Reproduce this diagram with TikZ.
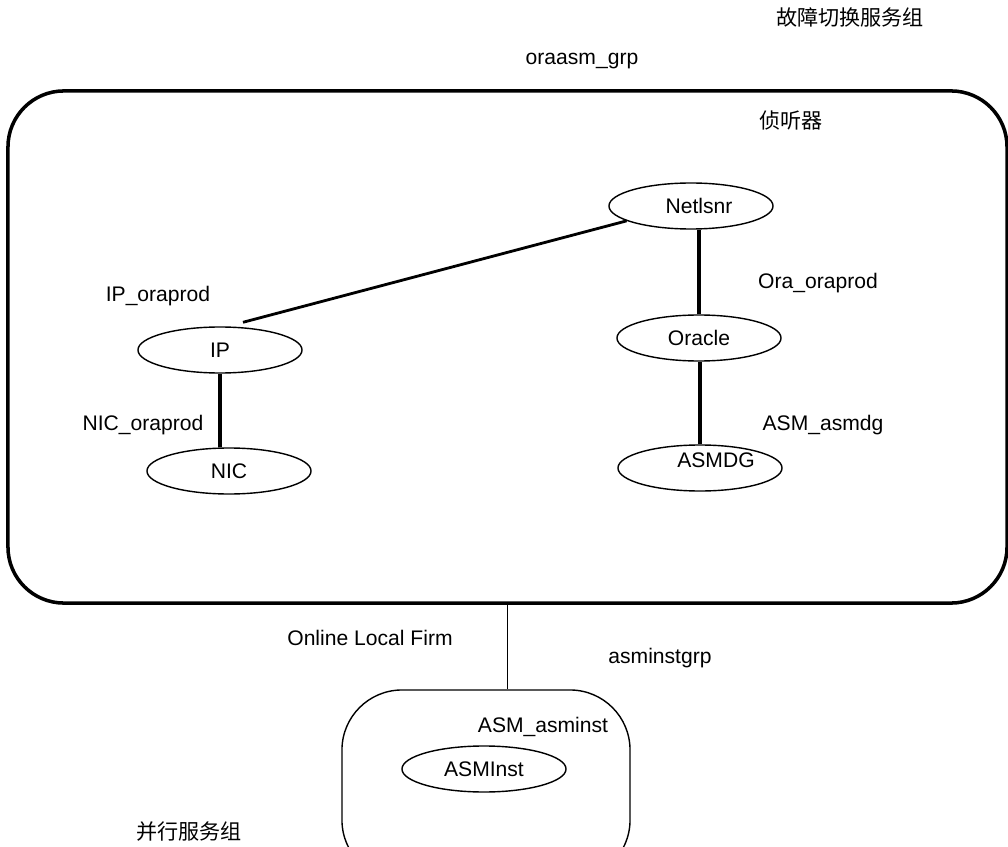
\documentclass[tikz,border=0pt]{standalone}
\usepackage{fontspec}
\setmainfont{Liberation Sans}
\newfontfamily\cjk{Noto Sans CJK SC}
\usetikzlibrary{shapes,positioning}
\tikzset{
    basic/.style  = {font=\fontsize{15}{18}\selectfont},
    res/.style    = {basic, draw, ellipse, line width=1pt, minimum width=4.1cm, minimum height=1.15cm, inner sep=0pt},
    tag/.style    = {basic, anchor=base, inner sep=0pt},
    link/.style   = {line width=2.8pt},
    failover/.style = {draw, line width=2.5pt, rounded corners=1.4cm, minimum width=24.97cm, minimum height=12.8cm},
    parallel/.style = {draw, line width=1pt, rounded corners=1.5cm, minimum width=7.2cm, minimum height=4.75cm}
}

\begin{document}
\begin{tikzpicture}[x=0.025cm, y=-0.025cm]
    \clip (0,0) rectangle (1008,847);
    % service groups
    \node[failover] (grp) at (507.5,347) {};
    \node[parallel] (inst) at (486,785) {};
    % resources
    \node[res, label={[basic, xshift=0.2cm]center:Netlsnr}] (netlsnr) at (691,206) {};
    \node[res] (oracle) at (699,338) {Oracle};
    \node[res, label={[basic, xshift=0.4cm, yshift=0.2cm]center:ASMDG}] (asmdg) at (700,468) {};
    \node[res] (ip) at (220,350) {IP};
    \node[res] (nic) at (229,471) {NIC};
    \node[res] (asminst) at (484,769) {ASMInst};
    % dependencies
    \draw[line width=2pt] (netlsnr.193) -- ([xshift=0.575cm, yshift=0.1cm]ip.north);
    \draw[link] (oracle.north) -- (oracle.north |- netlsnr.south);
    \draw[link] (asmdg.north) -- (asmdg.north |- oracle.south);
    \draw[link] (nic.north -| ip.south) -- (ip.south);
    \draw[line width=1pt] (grp.south) -- (grp.south |- inst.north);
    % labels
    \node[tag] (t1) at (850,26) {\cjk 故障切换服务组};
    \node[tag] (t2) at (582,65) {oraasm\_grp};
    \node[tag] (t3) at (791,129) {\cjk 侦听器};
    \node[tag] (t4) at (158,302) {IP\_oraprod};
    \node[tag] (t5) at (818,288) {Ora\_oraprod};
    \node[tag] (t6) at (143,430) {NIC\_oraprod};
    \node[tag] (t7) at (823,430) {ASM\_asmdg};
    \node[tag] (t8) at (370,645) {Online Local Firm};
    \node[tag] (t9) at (660,663) {asminstgrp};
    \node[tag] (t10) at (543,732) {ASM\_asminst};
    \node[tag] (t11) at (189,839) {\cjk 并行服务组};
\end{tikzpicture}
\end{document}
